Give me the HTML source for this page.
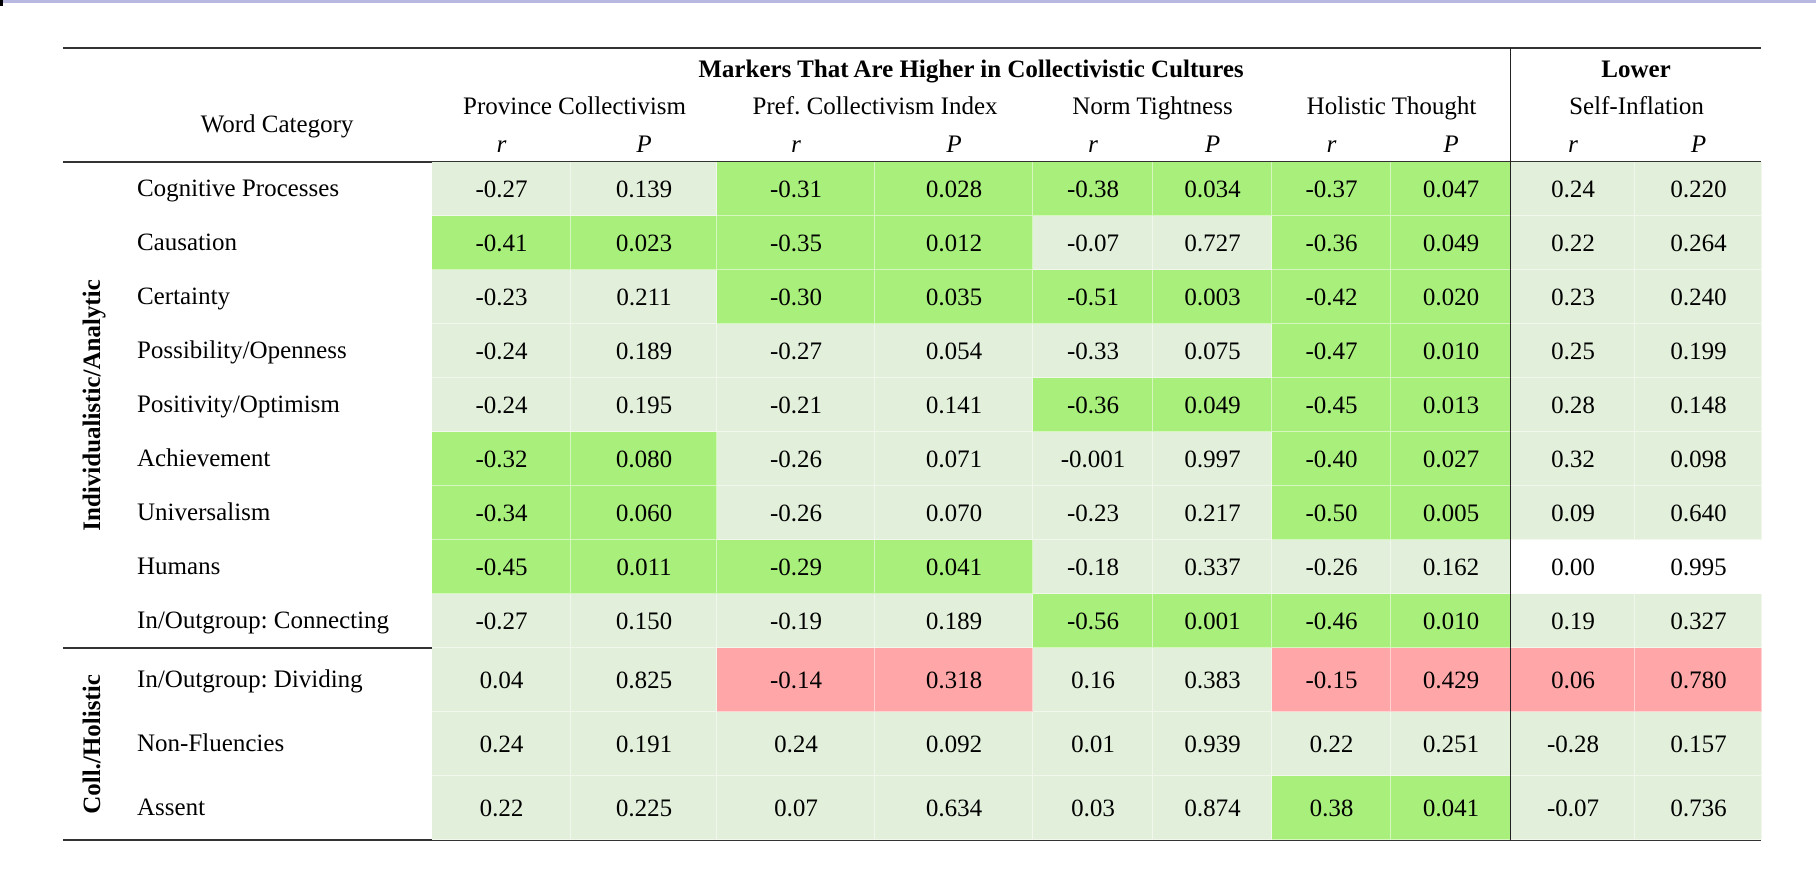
<!DOCTYPE html>
<html><head><meta charset="utf-8"><style>
html,body{margin:0;padding:0;background:#fff;}
#root{position:relative;width:1816px;height:878px;overflow:hidden;font-family:"Liberation Serif",serif;color:#000;}
.t{position:absolute;white-space:nowrap;font-size:25px;line-height:30px;}
.c{transform:translateX(-50%);}
.b{font-weight:bold;}
.i{font-style:italic;}
.rule{position:absolute;background:#333;}
.cell{position:absolute;box-sizing:border-box;border-right:1px solid rgba(255,255,255,0.5);border-bottom:1px solid rgba(255,255,255,0.5);}
.num{position:absolute;font-size:25px;line-height:30px;transform:translate(-50%,-50%);white-space:nowrap;}
.rot{position:absolute;font-size:25px;font-weight:bold;transform:translate(-50%,-50%) rotate(-90deg);white-space:nowrap;}
</style></head><body>
<div id="root">
<div style="position:absolute;left:0;top:0;width:1816px;height:3px;background:#b8b8e0"></div>
<div style="position:absolute;left:0;top:0;width:3px;height:6px;background:#000"></div>

<div class="rule" style="left:63px;top:47px;width:1698px;height:2px"></div>
<div class="rule" style="left:63px;top:161px;width:1698px;height:2px"></div>
<div class="rule" style="left:63px;top:647px;width:1698px;height:2px"></div>
<div class="rule" style="left:63px;top:839px;width:1698px;height:2px"></div>

<div class="t b c" style="left:971px;top:55px">Markers That Are Higher in Collectivistic Cultures</div>
<div class="t b c" style="left:1636px;top:55px">Lower</div>
<div class="t c" style="left:277px;top:110px">Word Category</div>
<div id="hdr"></div>
<div id="body"></div>
<div class="rot" style="left:93px;top:405px">Individualistic/Analytic</div>
<div class="rot" style="left:93px;top:744px">Coll./Holistic</div>
<div style="position:absolute;left:1510px;top:48px;width:1px;height:792px;background:#222"></div>
</div>
<script>
const measures = ["Province Collectivism","Pref. Collectivism Index","Norm Tightness","Holistic Thought","Self-Inflation"];
const categories = ["Cognitive Processes","Causation","Certainty","Possibility/Openness","Positivity/Optimism","Achievement","Universalism","Humans","In/Outgroup: Connecting","In/Outgroup: Dividing","Non-Fluencies","Assent"];
const rValues = [
 ["-0.27","-0.31","-0.38","-0.37","0.24"],
 ["-0.41","-0.35","-0.07","-0.36","0.22"],
 ["-0.23","-0.30","-0.51","-0.42","0.23"],
 ["-0.24","-0.27","-0.33","-0.47","0.25"],
 ["-0.24","-0.21","-0.36","-0.45","0.28"],
 ["-0.32","-0.26","-0.001","-0.40","0.32"],
 ["-0.34","-0.26","-0.23","-0.50","0.09"],
 ["-0.45","-0.29","-0.18","-0.26","0.00"],
 ["-0.27","-0.19","-0.56","-0.46","0.19"],
 ["0.04","-0.14","0.16","-0.15","0.06"],
 ["0.24","0.24","0.01","0.22","-0.28"],
 ["0.22","0.07","0.03","0.38","-0.07"]];
const pValues = [
 ["0.139","0.028","0.034","0.047","0.220"],
 ["0.023","0.012","0.727","0.049","0.264"],
 ["0.211","0.035","0.003","0.020","0.240"],
 ["0.189","0.054","0.075","0.010","0.199"],
 ["0.195","0.141","0.049","0.013","0.148"],
 ["0.080","0.071","0.997","0.027","0.098"],
 ["0.060","0.070","0.217","0.005","0.640"],
 ["0.011","0.041","0.337","0.162","0.995"],
 ["0.150","0.189","0.001","0.010","0.327"],
 ["0.825","0.318","0.383","0.429","0.780"],
 ["0.191","0.092","0.939","0.251","0.157"],
 ["0.225","0.634","0.874","0.041","0.736"]];
const shading = [
 "LGGGL","GGLGL","LGGGL","LLLGL","LLGGL","GLLGL","GLLGL","GGLLW","LLGGL","LRLRR","LLLLL","LLLGL"];
const colX = [432,571,717,875,1033,1153,1272,1391,1511,1635,1762];
const rowY = [162,216,270,324,378,432,486,540,594,648,712,776,840];
const colors = {L:"#e2efda",G:"#a9ef7c",R:"#ffa7a8",W:"#ffffff"};
const hdr = document.getElementById('hdr');
const body = document.getElementById('body');
measures.forEach((m,g)=>{
  const x0 = colX[2*g], x1 = colX[2*g+2];
  const d = document.createElement('div');
  d.className='t c'; d.style.left=((x0+x1)/2)+'px'; d.style.top='92px'; d.textContent=m;
  
  
  hdr.appendChild(d);
  ['r','P'].forEach((s,k)=>{
    const e = document.createElement('div');
    e.className='t c i'; e.style.left=((colX[2*g+k]+colX[2*g+k+1])/2)+'px'; e.style.top='130px'; e.textContent=s;
    
    
    hdr.appendChild(e);
  });
});
categories.forEach((cat,i)=>{
  const y0 = rowY[i], y1 = rowY[i+1], yc=(y0+y1)/2;
  const lab = document.createElement('div');
  lab.className='t'; lab.style.left='137px'; lab.style.top=(yc-15)+'px'; lab.textContent=cat;
  
  
  body.appendChild(lab);
  for(let g=0; g<5; g++){
    const col = colors[shading[i][g]];
    [rValues[i][g], pValues[i][g]].forEach((v,k)=>{
      const x0 = colX[2*g+k], x1 = colX[2*g+k+1];
      const c = document.createElement('div');
      c.className='cell'; c.style.left=x0+'px'; c.style.top=y0+'px';
      c.style.width=(x1-x0)+'px'; c.style.height=(y1-y0)+'px'; c.style.background=col;
      
      
      body.appendChild(c);
      const n = document.createElement('div');
      n.className='num'; n.style.left=((x0+x1)/2)+'px'; n.style.top=(yc+1)+'px'; n.textContent=v;
      
      
      body.appendChild(n);
    });
  }
});
</script>
</body></html>
